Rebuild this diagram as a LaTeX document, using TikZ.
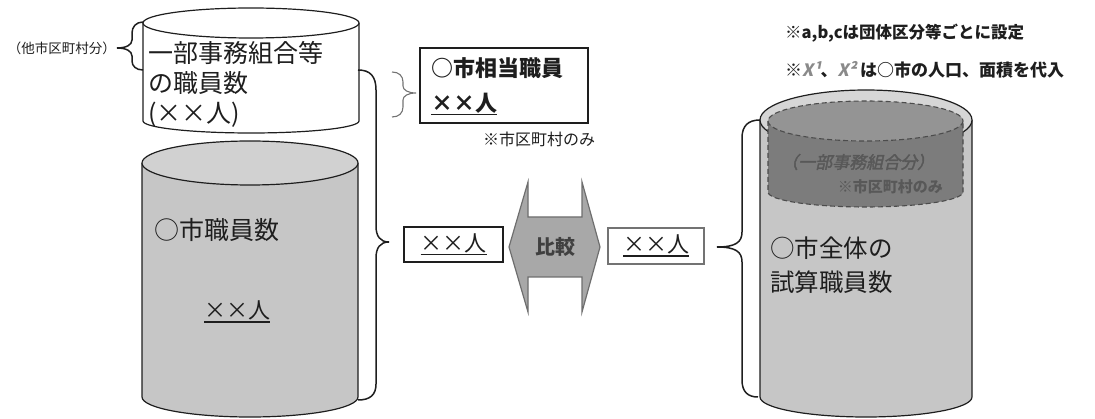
\documentclass[tikz,border=0pt]{standalone}
\usepackage{fontspec}
\setmainfont{Noto Sans CJK JP}
\newfontfamily\jpsl[FakeSlant=0.2]{Noto Sans CJK JP}
\newfontfamily\jpslb[FakeSlant=0.22,FakeBold=2]{Noto Sans CJK JP}
\newcommand\ulthick[1]{\setbox0\hbox{#1}\leavevmode\rlap{\rule[-4pt]{\wd0}{1.5pt}}\box0}
\definecolor{cylgray}{HTML}{C6C6C6}
\definecolor{cyltop}{HTML}{D1D1D1}
\definecolor{bandgray}{HTML}{D6D6D6}
\definecolor{innerbody}{HTML}{7C7C7C}
\definecolor{innertop}{HTML}{949494}
\definecolor{arrowfill}{HTML}{A8A8A8}
\definecolor{arrowline}{HTML}{6E6E6E}
\definecolor{txtgray}{HTML}{585858}
\definecolor{xgray}{HTML}{8A8A8A}
\definecolor{ink}{HTML}{1E1E1E}
\tikzset{
  outl/.style={draw=ink, line width=1.2pt},
  brc/.style={draw=ink, line width=1.5pt},
  lightbrc/.style={draw=black!55, line width=1.1pt},
  lbl/.style={inner sep=0pt, anchor=west, text=ink, align=left},
  clbl/.style={inner sep=0pt, text=ink},
  dashline/.style={draw=black!70, line width=1.1pt, dash pattern=on 5pt off 3pt},
}
\begin{document}
\begin{tikzpicture}[x=1pt,y=1pt,yscale=-1]
\useasboundingbox (0,0) rectangle (1095,419);

% ---------- white cylinder (top left)
\fill[white] (143,23) -- (143,121) arc[start angle=180,end angle=0,x radius=108,y radius=12] -- (359,23) -- cycle;
\draw[outl] (143,23) -- (143,121) arc[start angle=180,end angle=0,x radius=108,y radius=12] -- (359,23);
\filldraw[outl, fill=white] (251,23) ellipse[x radius=108,y radius=15];
\node[lbl, font=\fontsize{25}{30}\selectfont] (wtext) at (148,84) {一部事務組合等\\の職員数\\(××人)};

% ---------- gray cylinder (bottom left)
\fill[cylgray] (142,163) -- (142,397) arc[start angle=180,end angle=0,x radius=108,y radius=20] -- (358,163) -- cycle;
\draw[outl] (142,163) -- (142,397) arc[start angle=180,end angle=0,x radius=108,y radius=20] -- (358,163);
\filldraw[outl, fill=cyltop] (250,163) ellipse[x radius=108,y radius=22];
\node[lbl, font=\fontsize{25}{30}\selectfont] (gtext) at (154,230) {○市職員数};
\node[clbl, font=\fontsize{22}{26}\selectfont] (gnum) at (237,312) {\ulthick{××人}};

% ---------- right cylinder
\fill[cylgray] (760,120) -- (760,397) arc[start angle=180,end angle=0,x radius=106,y radius=20] -- (972,120) -- cycle;
\draw[outl] (760,120) -- (760,397) arc[start angle=180,end angle=0,x radius=106,y radius=20] -- (972,120);
\filldraw[outl, fill=bandgray] (866,120) ellipse[x radius=106,y radius=30];
% inner dashed cylinder
\fill[innerbody] (768,121) -- (768,192) arc[start angle=180,end angle=0,x radius=97.5,y radius=15] -- (963,121) -- cycle;
\draw[dashline] (768,121) -- (768,192) arc[start angle=180,end angle=0,x radius=97.5,y radius=15] -- (963,121);
\fill[innertop] (865.5,121) ellipse[x radius=97.5,y radius=20];
\draw[dashline] (865.5,121) ellipse[x radius=97.5,y radius=20];
\node[lbl, text=txtgray, font=\jpslb\fontsize{17}{20}\selectfont] (itext) at (781,162) {（一部事務組合分）};
\node[inner sep=0pt, anchor=east, text=txtgray, font=\bfseries\fontsize{15}{18}\selectfont] (inote) at (943,187) {※市区町村のみ};
\node[lbl, font=\fontsize{24.5}{34}\selectfont] (rtext) at (770,265) {○市全体の\\試算職員数};

% ---------- middle box
\node[outl, minimum width=168pt, minimum height=75pt, inner sep=0pt] (mbox) at (504,85.5) {};
\node[lbl, font=\bfseries\fontsize{22}{26}\selectfont] (mtitle) at (431,68) {○市相当職員};
\node[lbl, font=\bfseries\fontsize{22}{26}\selectfont] (mnum) at (431,104) {\ulthick{××人}};
\node[lbl, font=\fontsize{16}{19}\selectfont] (mnote) at (483,139) {※市区町村のみ};

% ---------- comparison boxes and arrow
\node[draw=ink, line width=2.2pt, minimum width=99pt, minimum height=35pt, inner sep=0pt, font=\fontsize{22}{26}\selectfont, text=ink] (lbox) at (453.5,244.5) {\ulthick{××人}};
\node[draw=black!55, line width=2pt, minimum width=96pt, minimum height=36pt, inner sep=0pt, font=\fontsize{22}{26}\selectfont, text=ink] (rbox) at (656,246) {\ulthick{××人}};

\coordinate (aL) at (509,247);
\coordinate (aR) at (600,247);
\filldraw[fill=arrowfill, draw=arrowline, line width=1.2pt, line join=miter]
  (aL) -- (528,182) -- (528,217) -- (582,217) -- (582,182) -- (aR)
  -- (582,312) -- (582,277) -- (528,277) -- (528,312) -- cycle;
\node[clbl, text=black!75, font=\bfseries\fontsize{20}{24}\selectfont] (cmp) at (555,247) {比較};

% ---------- notes
\node[lbl, font=\bfseries\fontsize{16.5}{20}\selectfont] (note1) at (785,33) {※a,b,cは団体区分等ごとに設定};
\node[lbl, font=\bfseries\fontsize{17}{20}\selectfont] (note2) at (785,70) {※{\jpsl\color{xgray}X¹}、{\jpsl\color{xgray}X²} は○市の人口、面積を代入};
\node[inner sep=0pt, anchor=east, text=ink, font=\fontsize{13.5}{16}\selectfont] (other) at (116,48) {（他市区町村分）};

% ---------- braces
\draw[brc] (143,22) .. controls (136,22) and (132,27) .. (132,33) -- (132,40)
  .. controls (132,45) and (126,48) .. (117,48)
  .. controls (126,48) and (132,51) .. (132,56) -- (132,61)
  .. controls (132,66) and (136,70) .. (143,70);
\draw[brc] (358,70) .. controls (370,70) and (376,76) .. (376,90) -- (376,226)
  .. controls (376,236) and (380,242) .. (389,242)
  .. controls (380,242) and (376,248) .. (376,258) -- (376,384)
  .. controls (376,395) and (370,400) .. (358,400);
\draw[lightbrc] (392,72) .. controls (399,72) and (403,76) .. (403,82) -- (403,86)
  .. controls (403,90) and (408,93) .. (416,93)
  .. controls (408,93) and (403,96) .. (403,100) -- (403,107)
  .. controls (403,113) and (399,117) .. (392,117);
\draw[brc] (760,120) .. controls (748,120) and (742,126) .. (742,138) -- (742,232)
  .. controls (742,242) and (736,247) .. (717,247)
  .. controls (736,247) and (742,252) .. (742,262) -- (742,380)
  .. controls (742,392) and (748,397) .. (758,397);
\end{tikzpicture}
\end{document}
